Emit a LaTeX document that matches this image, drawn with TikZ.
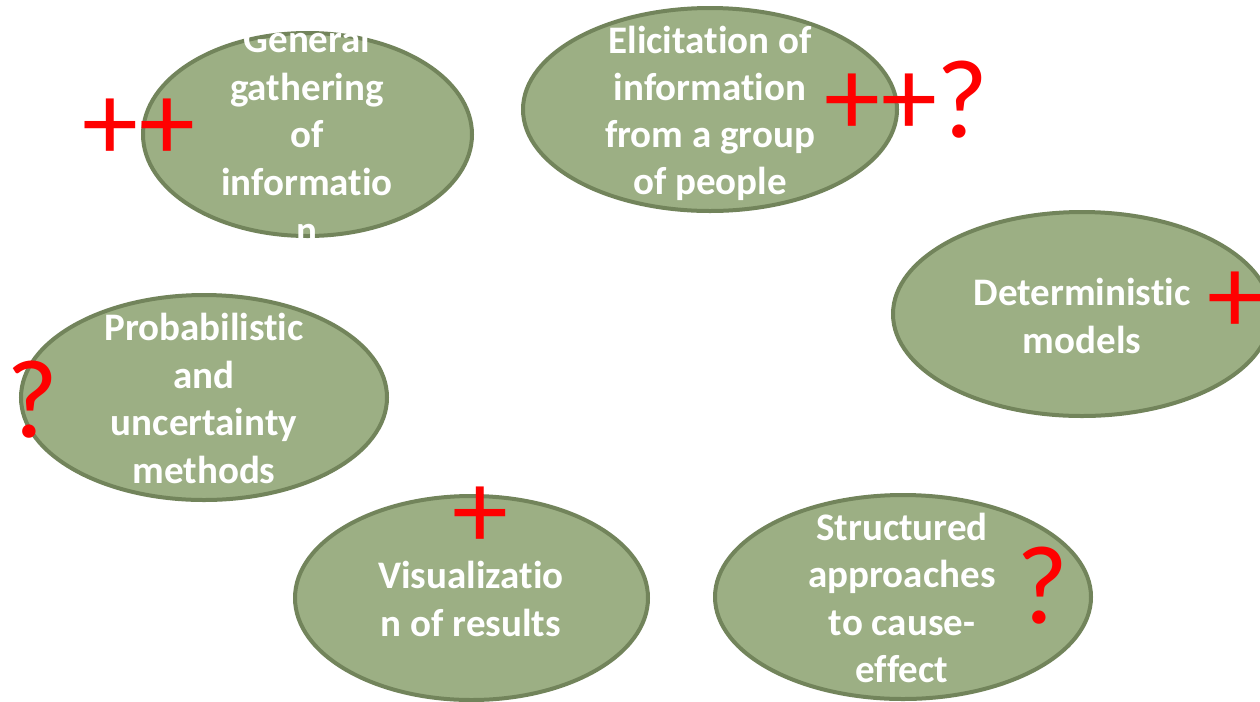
\documentclass[tikz,border=0pt]{standalone}
\usepackage{fontspec}
\setmainfont{Carlito}[RawFeature={-liga;-clig;-calt;-dlig}]
\usetikzlibrary{shapes.geometric}
\definecolor{ovalfill}{HTML}{9CAF84}
\definecolor{ovalline}{HTML}{72845B}
\newcommand\nolig{\kern0pt\relax}
\tikzset{
  oval/.style={ellipse, draw=ovalline, fill=ovalfill, line width=3pt, inner sep=0pt},
  lbl/.style={anchor=base, text=white, font=\bfseries\fontsize{29.25}{35}\selectfont, inner sep=0pt},
  redsign/.style={anchor=center, text=red, font=\fontsize{84}{90}\selectfont, inner sep=0pt}
}
\begin{document}
\begin{tikzpicture}[x=0.75pt,y=-0.75pt]
\useasboundingbox (0,0) rectangle (1260,701);
\clip (0,0) rectangle (1260,701);
\fill[white] (0,0) rectangle (1260,701);
% ovals
\node[oval, minimum width=246.75pt, minimum height=152.25pt] (gen) at (307.5,134.5) {};
\node[oval, minimum width=280.5pt, minimum height=152.25pt] (eli) at (710,109.5) {};
\node[oval, minimum width=274.5pt, minimum height=153.75pt] (prob) at (204,397.5) {};
\node[oval, minimum width=283.5pt, minimum height=153pt] (det) at (1082,314) {};
\node[oval, minimum width=264.75pt, minimum height=153pt] (vis) at (471.5,598) {};
\node[oval, minimum width=282pt, minimum height=153pt] (str) at (903,597) {};
% text of first oval, clipped to its box
\begin{scope}
\clip (141,31) rectangle (474,238);
\node[lbl] (gen1) at (307,52) {General};
\node[lbl] (gen2) at (307,100) {gathering};
\node[lbl] (gen3) at (307,147) {of};
\node[lbl] (gen4) at (307,195) {informat\nolig io};
\node[lbl] (gen5) at (307,243) {n};
\end{scope}
\node[lbl] (eli1) at (710,53) {Elicitat\nolig ion of};
\node[lbl] (eli2) at (710,100) {informat\nolig ion};
\node[lbl] (eli3) at (710,147) {from a group};
\node[lbl] (eli4) at (710,194) {of people};
\node[lbl] (prob1) at (204,340) {Probabilist\nolig ic};
\node[lbl] (prob2) at (204,388) {and};
\node[lbl] (prob3) at (204,435) {uncertainty};
\node[lbl] (prob4) at (204,483) {methods};
\node[lbl] (det1) at (1082,305) {Determinist\nolig ic};
\node[lbl] (det2) at (1082,353) {models};
\node[lbl] (vis1) at (471,588) {Visualizat\nolig io};
\node[lbl] (vis2) at (471,636) {n of results};
\node[lbl] (str1) at (902,540) {Structured};
\node[lbl] (str2) at (902,587) {approaches};
\node[lbl] (str3) at (902,635) {to cause-};
\node[lbl] (str4) at (902,682) {ef\nolig fect};
% red marks
\node[redsign] (m1) at (139,130) {++};
\node[redsign] (m2) at (881,105) {++};
\node[redsign] (m3) at (962,100) {?};
\node[redsign] (m4) at (1235,303) {+};
\node[redsign] (m5) at (32,400) {?};
\node[redsign] (m6) at (480,518) {+};
\node[redsign] (m7) at (1042,586) {?};
\end{tikzpicture}
\end{document}
